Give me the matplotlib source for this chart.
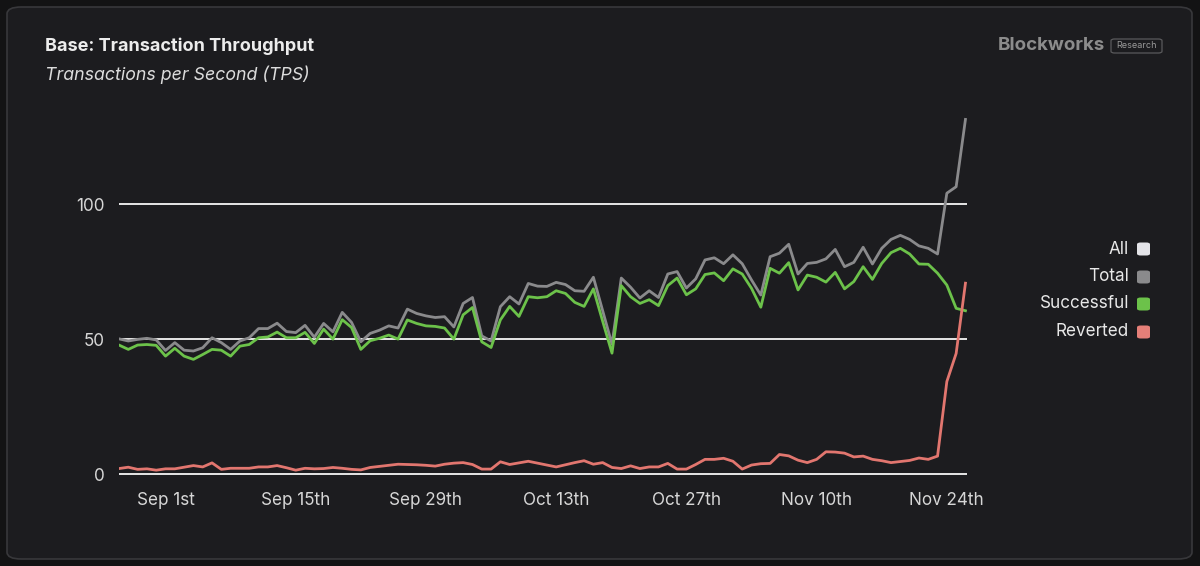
import numpy as np
import pandas as pd
import matplotlib
matplotlib.use("Agg")
import matplotlib.pyplot as plt
from matplotlib.patches import FancyBboxPatch

plt.rcParams['font.family'] = ['Inter', 'DejaVu Sans']

# daily values, Aug 27 -> Nov 26
dates = pd.date_range('2024-08-27', periods=92, freq='D')

total = [50.2, 49.4, 50.0, 50.4, 49.8, 45.9, 48.8, 46.0, 45.7, 46.9,
         50.6, 48.8, 46.3, 49.4, 50.6, 54.0, 54.0, 56.0, 52.9, 52.5,
         55.2, 50.8, 55.9, 52.8, 60.0, 56.3, 49.1, 52.2, 53.4, 55.0,
         54.2, 61.2, 59.6, 58.7, 58.1, 58.4, 54.6, 63.3, 65.5, 51.3,
         49.4, 62.1, 65.8, 63.1, 70.7, 69.7, 69.6, 71.1, 70.3, 68.0,
         67.8, 73.0, 60.6, 48.2, 72.7, 69.3, 65.3, 68.0, 65.5, 74.2,
         75.1, 69.0, 72.4, 79.4, 80.2, 78.0, 81.3, 78.0, 72.0, 66.4,
         80.6, 81.9, 85.2, 74.2, 78.1, 78.5, 79.8, 83.3, 76.9, 78.5,
         84.1, 77.9, 83.7, 87.0, 88.5, 87.0, 84.6, 83.7, 81.6, 104.1,
         106.5, 131.4]

successful = [47.9, 46.3, 47.9, 48.1, 47.8, 43.8, 46.7, 43.8, 42.6, 44.4,
              46.3, 46.0, 43.8, 47.5, 48.1, 50.6, 50.9, 52.7, 50.6, 50.6,
              52.6, 48.5, 53.8, 50.1, 57.3, 54.4, 46.3, 49.5, 50.4, 51.6,
              50.1, 57.2, 55.9, 55.0, 54.8, 54.2, 50.1, 59.1, 61.8, 49.1,
              47.0, 57.2, 62.2, 58.5, 65.8, 65.4, 65.8, 68.0, 67.0, 63.7,
              62.2, 68.7, 56.7, 44.9, 69.9, 65.8, 63.3, 64.7, 62.5, 69.9,
              72.7, 66.5, 68.7, 74.0, 74.6, 71.7, 76.1, 74.2, 68.9, 61.9,
              76.3, 74.5, 78.4, 68.3, 73.8, 73.0, 71.2, 74.8, 68.7, 71.4,
              76.9, 72.2, 78.1, 82.1, 83.7, 81.6, 77.9, 77.8, 74.5, 70.1,
              61.5, 60.6]

reverted = [2.2, 2.7, 1.9, 2.1, 1.6, 2.1, 2.1, 2.7, 3.3, 2.8,
            4.3, 1.9, 2.3, 2.3, 2.3, 2.8, 2.8, 3.3, 2.5, 1.6,
            2.3, 2.1, 2.2, 2.6, 2.3, 1.9, 1.7, 2.6, 3.0, 3.4,
            3.8, 3.7, 3.6, 3.4, 3.1, 3.8, 4.2, 4.4, 3.7, 2.0,
            2.0, 4.7, 3.7, 4.3, 4.9, 4.2, 3.5, 2.8, 3.6, 4.4,
            5.1, 3.8, 4.4, 2.6, 2.2, 3.2, 2.2, 2.8, 2.8, 4.1,
            2.0, 2.0, 3.7, 5.6, 5.6, 6.0, 4.9, 2.0, 3.5, 4.0,
            4.1, 7.4, 6.9, 5.3, 4.4, 5.6, 8.4, 8.3, 7.9, 6.5,
            6.8, 5.6, 5.1, 4.4, 4.8, 5.2, 6.1, 5.6, 6.8, 34.4,
            44.8, 70.8]

legend_names = ['All', 'Total', 'Successful', 'Reverted']
legend_colors = ['#e4e4e8', '#8a8a8c', '#6cc24a', '#e57f78']

tick_dates = pd.to_datetime(['2024-09-01', '2024-09-15', '2024-09-29', '2024-10-13',
                             '2024-10-27', '2024-11-10', '2024-11-24'])
tick_labels = ['Sep 1st', 'Sep 15th', 'Sep 29th', 'Oct 13th', 'Oct 27th', 'Nov 10th', 'Nov 24th']
y_ticks = [0, 50, 100]

W, H = 1200, 566
fig = plt.figure(figsize=(W / 100, H / 100), dpi=100)
fig.patch.set_facecolor('#131314')

# card panel (behind the axes)
panel = FancyBboxPatch((7 / W, 7 / H), 1185 / W, 552 / H,
                       boxstyle="round,pad=0,rounding_size=0.012",
                       transform=fig.transFigure, facecolor='#1c1c1f',
                       edgecolor='#38383b', linewidth=1.2, zorder=-5)
fig.patches.append(panel)

ax = fig.add_axes([119 / W, (H - 479.9) / H, 848 / W, 370.2 / H])
ax.set_facecolor('none')
ax.set_zorder(2)

for v in y_ticks:
    ax.axhline(v, color='#e6e6e6', lw=1.4, zorder=1)

ax.plot(dates, total, color='#8a8a8c', lw=2.0, zorder=3)
ax.plot(dates, successful, color='#6cc24a', lw=2.0, zorder=4)
ax.plot(dates, reverted, color='#e2766f', lw=2.0, zorder=5)

ax.set_xlim(dates[0], dates[-1] + pd.Timedelta(hours=4))
ax.set_ylim(-2, 135)
ax.set_xticks(tick_dates)
ax.set_xticklabels(tick_labels)
ax.set_yticks(y_ticks)
ax.tick_params(axis='both', length=0, colors='#d6d6d6', labelsize=12.3)
ax.tick_params(axis='x', pad=9)
ax.tick_params(axis='y', pad=10)
for s in ax.spines.values():
    s.set_visible(False)

# titles
fig.text(45 / W, 1 - 46 / H, 'Base: Transaction Throughput', color='#ececec',
         fontsize=13, fontweight='bold', va='center', ha='left')
fig.text(45 / W, 1 - 75 / H, 'Transactions per Second (TPS)', color='#dcdcdc',
         fontsize=12.8, fontstyle='italic', va='center', ha='left')

# logo
fig.text(1105 / W, 1 - 46 / H, 'Blockworks', color='#8c8c8c', fontsize=13.5,
         fontweight='bold', va='center', ha='right')
fig.patches.append(FancyBboxPatch((1111 / W, 1 - 53 / H), 51 / W, 14 / H,
                                  boxstyle="round,pad=0,rounding_size=0.003",
                                  transform=fig.transFigure, facecolor='none',
                                  edgecolor='#5a5a5c', linewidth=0.9))
fig.text(1136.5 / W, 1 - 46 / H, 'Research', color='#9a9a9a', fontsize=6.5,
         va='center', ha='center')

# legend
legend_y = [249, 277, 304, 332]
for name, col, yy in zip(legend_names, legend_colors, legend_y):
    fig.text(1129 / W, 1 - yy / H, name, color='#e8e8e8', fontsize=12.3,
             va='center', ha='right')
    fig.patches.append(FancyBboxPatch((1137 / W, 1 - (yy + 6.5) / H), 13 / W, 13 / H,
                                      boxstyle="round,pad=0,rounding_size=0.003",
                                      transform=fig.transFigure, facecolor=col,
                                      edgecolor='none'))

fig.savefig('out.png', dpi=100, facecolor=fig.get_facecolor())
